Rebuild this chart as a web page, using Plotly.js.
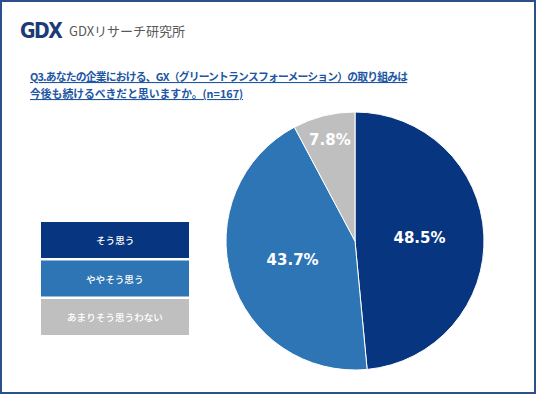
<!DOCTYPE html>
<html>
<head>
<meta charset="utf-8">
<script src="https://cdn.plot.ly/plotly-3.0.1.min.js"></script>
<style>html,body{margin:0;padding:0;background:#fff;}#chart{width:536px;height:394px;}</style>
</head>
<body>
<div id="chart"></div>
<script>
// Data
const categories = ["そう思う", "ややそう思う", "あまりそう思うわない"];
const counts = [81, 73, 13];
const percentLabels = ["48.5%", "43.7%", "7.8%"];
const colors = ["#08357f", "#2e75b6", "#bfbfbf"];
const titleLines = [
  "Q3.あなたの企業における、GX（グリーントランスフォーメーション）の取り組みは",
  "今後も続けるべきだと思いますか。(n=167)"
];
const brandName = "GDXリサーチ研究所";

const W = 536, H = 394;
const px = x => x / W;
const py = y => 1 - y / H;
const jp = '"Noto Sans CJK JP", "Noto Sans", sans-serif';

const trace = {
  type: 'pie',
  values: counts,
  labels: categories,
  text: percentLabels,
  textinfo: 'text',
  texttemplate: '%{text}',
  textposition: 'inside',
  insidetextorientation: 'horizontal',
  insidetextfont: {family: '"DejaVu Sans", Verdana, sans-serif', size: 15, color: '#ffffff', weight: 'bold'},
  marker: {colors: colors, line: {color: '#ffffff', width: 1}},
  sort: false,
  direction: 'clockwise',
  rotation: 0,
  hoverinfo: 'none',
  showlegend: false,
  domain: {x: [px(225), px(485)], y: [py(370), py(112)]}
};

const shapes = [];
const annotations = [];

// frame
shapes.push({type: 'rect', xref: 'paper', yref: 'paper', x0: 0, x1: 1, y0: 0, y1: 1,
  line: {color: '#2b4f8c', width: 4}, fillcolor: 'rgba(0,0,0,0)'});

// legend boxes
const boxTop = 222, boxH = 36, boxGap = 38.5;
categories.forEach((c, i) => {
  const t = boxTop + i * boxGap;
  shapes.push({type: 'rect', xref: 'paper', yref: 'paper', x0: px(41), x1: px(189),
    y0: py(t + boxH), y1: py(t), fillcolor: colors[i], line: {width: 0}});
  annotations.push({xref: 'paper', yref: 'paper', x: px(115), y: py(t + boxH / 2),
    xanchor: 'center', yanchor: 'middle', showarrow: false, text: c,
    font: {family: jp, size: 9.6, color: '#ffffff', weight: 500}});
});

// title
const spacing = [-0.8, 0];
titleLines.forEach((l, i) => {
  annotations.push({xref: 'paper', yref: 'paper', x: px(28), y: py(76 + i * 17),
    xanchor: 'left', yanchor: 'middle', showarrow: false,
    text: '<span style="letter-spacing:' + spacing[i] + 'px"><b><u>' + l + '</u></b></span>',
    font: {family: jp, size: 10.8, color: '#1d56a3'}});
});

// logo
annotations.push({xref: 'paper', yref: 'paper', x: px(18), y: py(31),
  xanchor: 'left', yanchor: 'middle', showarrow: false,
  text: '<span style="letter-spacing:-1.5px"><b>GDX</b></span>',
  font: {family: '"DejaVu Sans Condensed", "DejaVu Sans", sans-serif', size: 21, color: '#1b3a78'}});
annotations.push({xref: 'paper', yref: 'paper', x: px(67), y: py(31),
  xanchor: 'left', yanchor: 'middle', showarrow: false, text: brandName,
  font: {family: jp, size: 13, color: '#595959'}});

const layout = {
  width: W, height: H,
  margin: {l: 0, r: 0, t: 0, b: 0},
  paper_bgcolor: '#ffffff',
  plot_bgcolor: '#ffffff',
  shapes: shapes,
  annotations: annotations,
  showlegend: false
};

Plotly.newPlot('chart', [trace], layout, {displayModeBar: false, staticPlot: true});
</script>
</body>
</html>
